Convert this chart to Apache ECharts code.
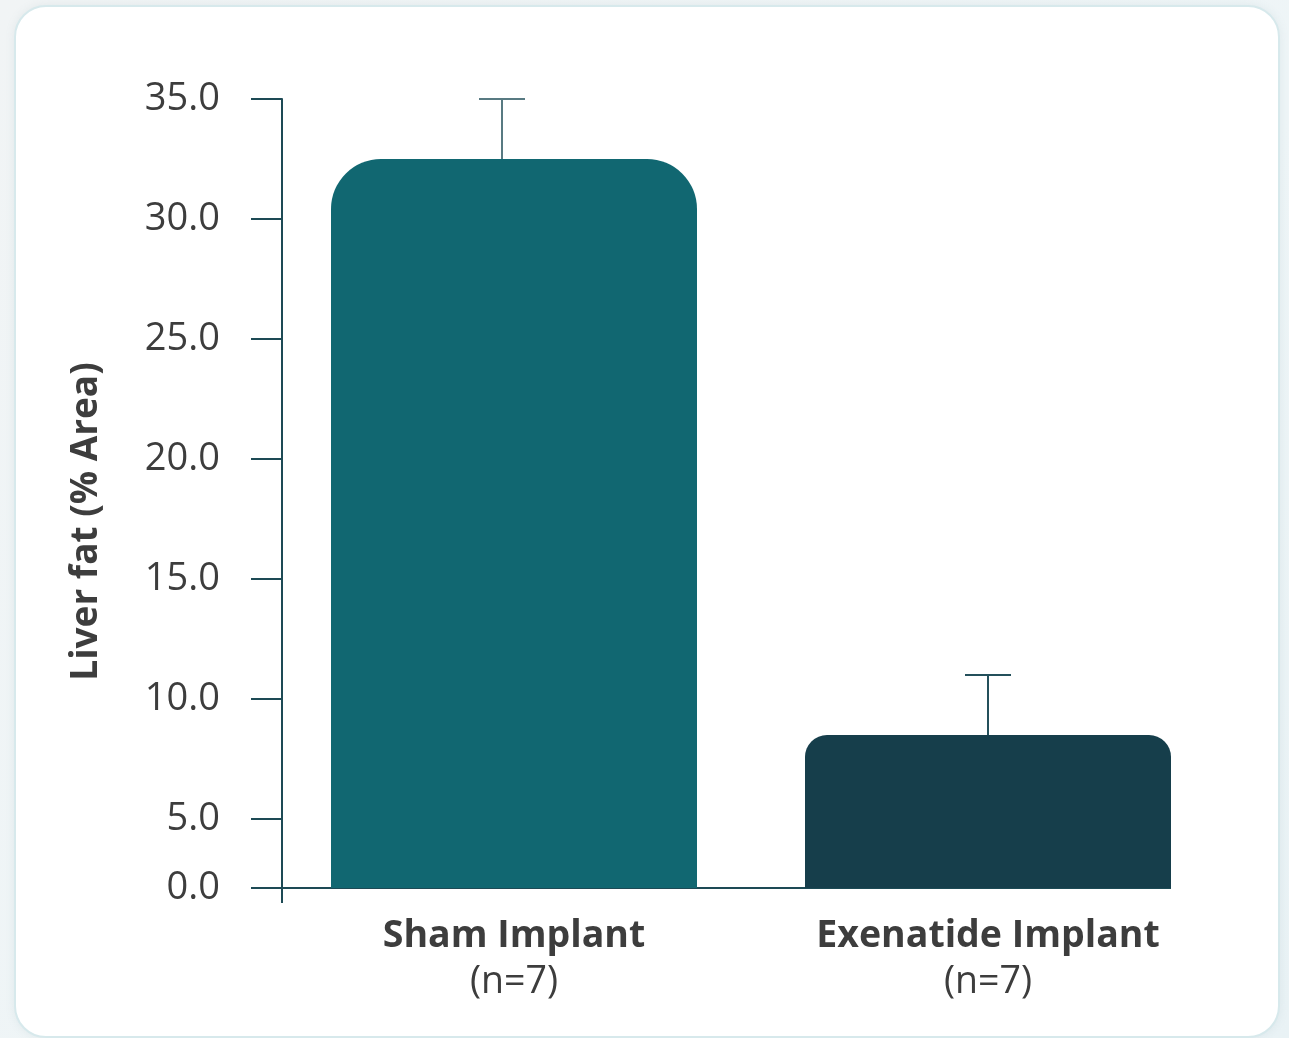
<!DOCTYPE html>
<html>
<head>
<meta charset="utf-8">
<script src="https://cdn.jsdelivr.net/npm/echarts@6/dist/echarts.min.js"></script>
<style>
  html, body { margin:0; padding:0; width:1289px; height:1038px; overflow:hidden;
    background: linear-gradient(135deg, #f1f4f5 0%, #eef5f7 60%, #e9f2f5 100%); }
  #card { position:absolute; left:14px; top:5px; width:1262px; height:1029px;
    background:#fff; border:2px solid #d7e9ec; border-radius:32px;
    box-shadow: 0 0 10px rgba(120,150,160,0.12); }
  #chart { position:absolute; left:0; top:0; width:1289px; height:1038px; }
</style>
</head>
<body>
<div id="card"></div>
<div id="chart"></div>
<script>
// ---- data ----
const categories = ['Sham Implant', 'Exenatide Implant'];
const groupSizes = ['(n=7)', '(n=7)'];
const meanValues = [32.5, 8.5];
const errorTops = [35.0, 11.0];
const yTickValues = [5, 10, 15, 20, 25, 30, 35];
const yAxisFloor = 2.125;   // axis floor, labelled "0.0" (compressed bottom segment)
const yAxisMax = 35;

// ---- styles ----
const barColors = ['#116771', '#163e4b'];
const barRadii = [50, 22];
const errColors = ['#587a82', '#24505b'];
const errShift = [-12, 0];
const axisColor = '#1d4a55';
const textColor = '#3d3d3d';
const font = '"Open Sans", "Noto Sans", sans-serif';

const chart = echarts.init(document.getElementById('chart'));
const tickVals = [yAxisFloor].concat(yTickValues);

chart.setOption({
  animation: false,
  backgroundColor: 'transparent',
  grid: { left: 277, right: 64, top: 99, bottom: 150 },
  xAxis: {
    type: 'category',
    data: categories,
    axisLine: { show: false },
    axisTick: { show: false },
    axisLabel: {
      margin: 25,
      interval: 0,
      formatter: (v, i) => '{b|' + v + '}\n{n|' + groupSizes[i] + '}',
      rich: {
        b: { fontFamily: font, fontWeight: 'bold', fontSize: 37.5, color: textColor, lineHeight: 46 },
        n: { fontFamily: font, fontSize: 37.5, color: textColor, lineHeight: 46 }
      }
    }
  },
  yAxis: {
    type: 'value',
    min: yAxisFloor,
    max: yAxisMax,
    offset: -5,
    name: 'Liver fat (% Area)',
    nameLocation: 'middle',
    nameGap: 177,
    nameTextStyle: { fontFamily: font, fontWeight: 'bold', fontSize: 37, color: textColor, padding: [0, 56, 0, 0] },
    axisLine: { show: true, lineStyle: { color: axisColor, width: 2 } },
    axisTick: { show: true, length: 31, customValues: tickVals, lineStyle: { color: axisColor, width: 2 } },
    splitLine: { show: false },
    axisLabel: {
      customValues: tickVals,
      margin: 62,
      fontFamily: font, fontSize: 38, color: textColor,
      formatter: v => (Math.abs(v - yAxisFloor) < 1e-6 ? 0 : v).toFixed(1)
    }
  },
  series: [
    {
      type: 'bar',
      barWidth: 366,
      clip: true,
      data: meanValues.map((v, i) => ({
        value: v,
        itemStyle: { color: barColors[i], borderRadius: [barRadii[i], barRadii[i], 0, 0] }
      })),
      z: 2
    },
    {
      type: 'custom',
      z: 1,
      data: meanValues.map((m, i) => [i, m, errorTops[i]]),
      renderItem: (params, api) => {
        const i = api.value(0);
        const base = api.coord([i, api.value(1)]);
        const top = api.coord([i, api.value(2)]);
        const x = base[0] + errShift[i];
        const st = { stroke: errColors[i], lineWidth: 2 };
        return {
          type: 'group',
          children: [
            { type: 'line', shape: { x1: x, y1: base[1], x2: x, y2: top[1] }, style: st },
            { type: 'line', shape: { x1: x - 23, y1: top[1], x2: x + 23, y2: top[1] }, style: st }
          ]
        };
      }
    }
  ]
});

// baseline & axis extension, positioned from the axes
const p0 = chart.convertToPixel({ gridIndex: 0 }, [0, yAxisFloor]);
const p1 = chart.convertToPixel({ gridIndex: 0 }, [1, yAxisFloor]);
const axisX = 282;
chart.setOption({
  graphic: [
    { type: 'line', z: 0, shape: { x1: axisX - 31, y1: p0[1], x2: p1[0] + 183, y2: p0[1] },
      style: { stroke: axisColor, lineWidth: 2 } },
    { type: 'line', z: 0, shape: { x1: axisX, y1: p0[1], x2: axisX, y2: p0[1] + 15 },
      style: { stroke: axisColor, lineWidth: 2 } }
  ]
});
</script>
</body>
</html>
